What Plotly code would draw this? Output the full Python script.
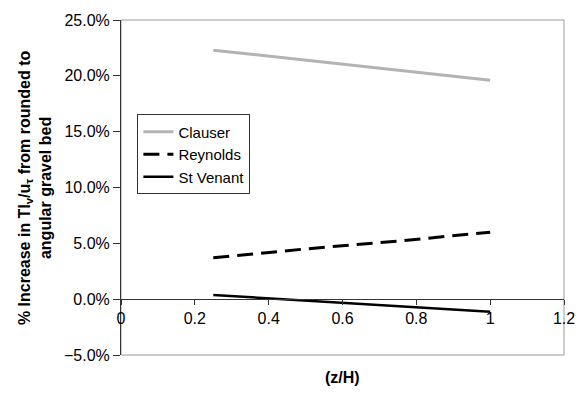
import plotly.graph_objects as go

# Relative depth (z/H)
z_over_h = [0.25, 0.5, 0.75, 1.0]

# % increase in TIv/u_tau from rounded to angular gravel bed
clauser = [0.223, 0.214, 0.205, 0.196]
reynolds = [0.037, 0.045, 0.052, 0.060]
st_venant = [0.0038, -0.0012, -0.0062, -0.0112]

x_ticks = [0, 0.2, 0.4, 0.6, 0.8, 1.0, 1.2]
y_ticks = [-0.05, 0.0, 0.05, 0.10, 0.15, 0.20, 0.25]

FONT = "Liberation Sans, Arial, sans-serif"
Y_MIN, Y_MAX = -0.05, 0.25

fig = go.Figure()
fig.add_trace(go.Scatter(x=z_over_h, y=clauser, mode="lines", name="Clauser",
                         line=dict(color="#b3b3b3", width=3)))
fig.add_trace(go.Scatter(x=z_over_h, y=reynolds, mode="lines", name="Reynolds",
                         line=dict(color="#000000", width=3, dash="16px,8px")))
fig.add_trace(go.Scatter(x=z_over_h, y=st_venant, mode="lines", name="St Venant",
                         line=dict(color="#000000", width=2.5)))

# Plot-area frame
fig.add_shape(type="rect", xref="paper", yref="paper", x0=0, x1=1, y0=0, y1=1,
              line=dict(color="#9a9a9a", width=1), layer="below")

fig.update_layout(
    width=587, height=394,
    margin=dict(l=121, r=15, t=16, b=39),
    paper_bgcolor="white", plot_bgcolor="white",
    font=dict(family=FONT, size=16, color="black"),
    showlegend=True,
    legend=dict(x=0.037, y=0.718, xanchor="left", yanchor="top",
                bgcolor="white", bordercolor="#333333", borderwidth=1,
                font=dict(size=15), tracegroupgap=0),
    xaxis=dict(range=[0, 1.2], tickvals=x_ticks, ticktext=[f"{v:g}" for v in x_ticks],
               showgrid=False, zeroline=False,
               showline=True, linecolor="#333333", linewidth=1,
               ticks="outside", ticklen=5, tickcolor="#333333",
               anchor="free", position=(0 - Y_MIN) / (Y_MAX - Y_MIN),
               tickfont=dict(size=16)),
    yaxis=dict(range=[Y_MIN, Y_MAX], tickvals=y_ticks, tickformat=".1%",
               showgrid=False, zeroline=False,
               showline=True, linecolor="#333333", linewidth=1,
               ticks="outside", ticklen=7, tickcolor="#333333",
               tickfont=dict(size=16)),
    annotations=[
        dict(text="<b>(z/H)</b>", xref="paper", yref="paper", x=0.5, y=-0.068,
             xanchor="center", yanchor="middle", showarrow=False,
             font=dict(size=16)),
        dict(text="<b>% Increase in TI<sub>v</sub>/u<sub>τ</sub> from rounded to<br>angular gravel bed</b>",
             xref="paper", yref="paper", x=-0.195, y=0.5,
             xanchor="center", yanchor="middle", textangle=-90, showarrow=False,
             font=dict(size=16)),
    ],
)

fig.write_html("out.html")
